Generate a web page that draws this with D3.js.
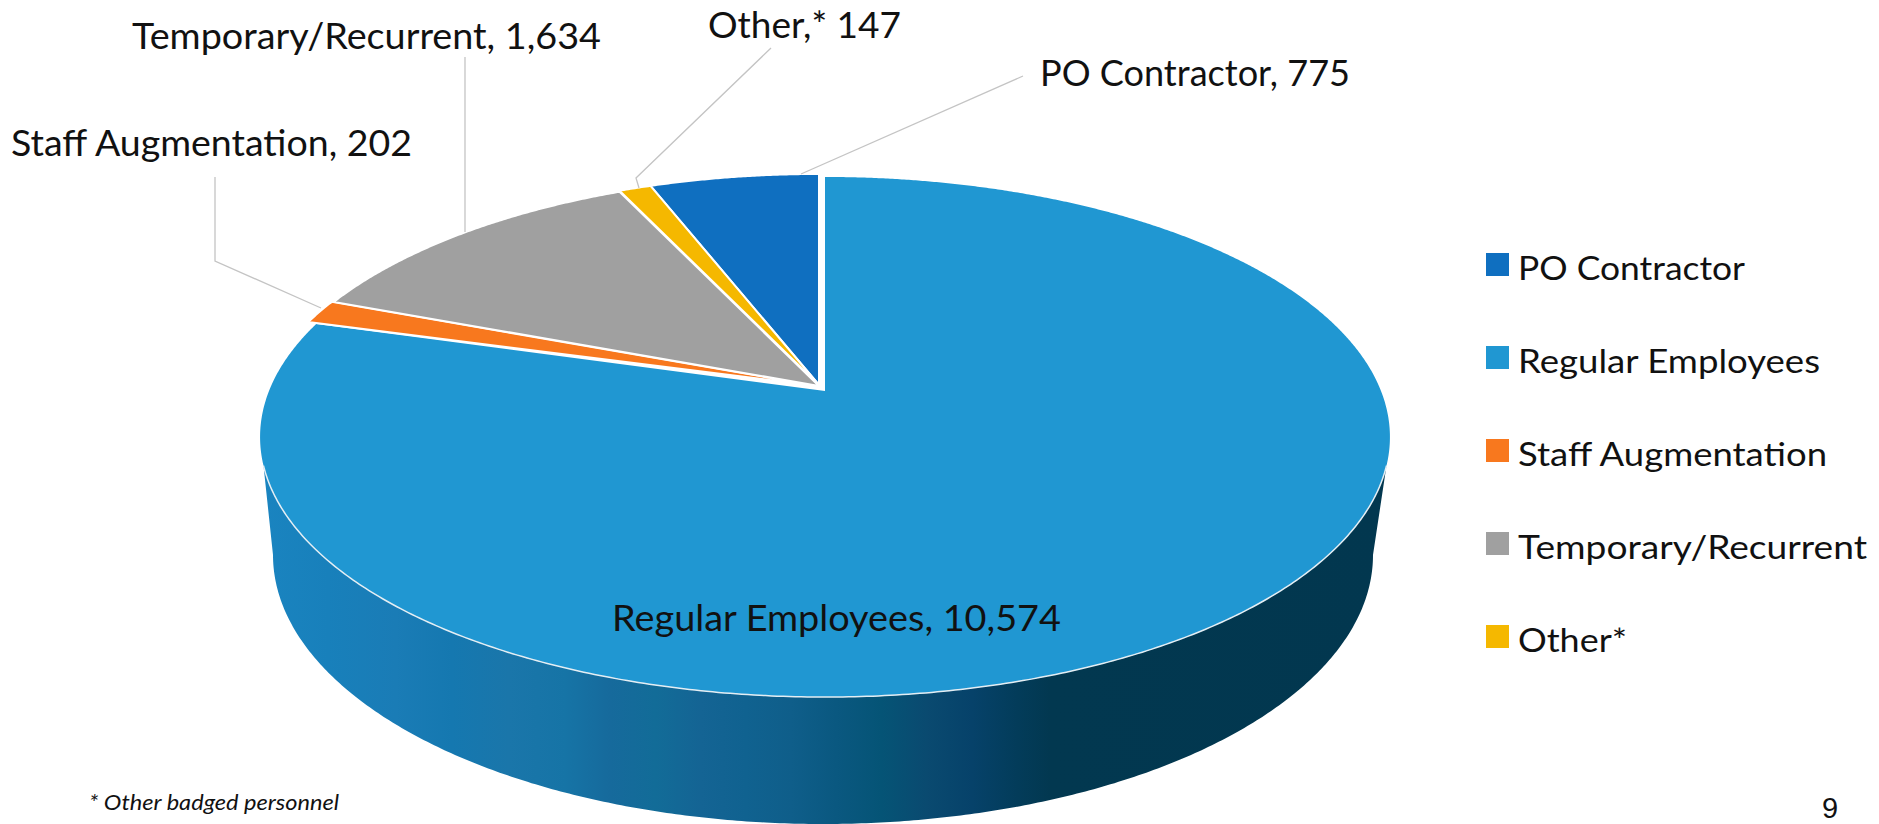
<!DOCTYPE html>
<html>
<head>
<meta charset="utf-8">
<title>Workforce pie</title>
<script src="https://cdn.jsdelivr.net/npm/d3@7"></script>
<style>
    html, body { margin: 0; padding: 0; background: #fff; overflow: hidden; }
    text { font-family: Lato, "Noto Sans", sans-serif; fill: #111; }
</style>
</head>
<body>
<div id="chart"></div>
<script>
const categories = ["PO Contractor", "Regular Employees", "Staff Augmentation", "Temporary/Recurrent", "Other*"];
const values = [775, 10574, 202, 1634, 147];
const colors = ["#0f6fc0", "#2097d2", "#f8781e", "#a0a0a0", "#f5b800"];
const dataLabels = ["PO Contractor, 775", "Regular Employees, 10,574", "Staff Augmentation, 202", "Temporary/Recurrent, 1,634", "Other,* 147"];
const footnote = "* Other badged personnel";
const pageNumber = "9";

document.addEventListener("DOMContentLoaded", function() {
    const width = 1879;
    const height = 824;

    const svg = d3.select("#chart")
        .append("svg")
        .attr("width", width)
        .attr("height", height);

    // top face: circle seen in perspective, apex is not the middle of the ellipse
    const cx = 825, cy = 388;
    const k = 0.1885, A = 250.8, B = 554.8;
    function project(t, dx = 0, dy = 0) {
        const den = 1 + k * Math.cos(t);
        return [cx + dx + B * Math.sin(t) / den, cy + dy - A * Math.cos(t) / den];
    }

    const total = d3.sum(values);
    const start = -2 * Math.PI * values[0] / total;
    const pie = d3.pie().sort(null).startAngle(start).endAngle(start + 2 * Math.PI);
    const arcs = pie(values);

    const line = d3.line();

    // side wall
    const rad = d => d * Math.PI / 180;
    const rim = d3.range(107, 253.5, 0.5).map(d => project(rad(d)));
    const lower = d3.range(180, -0.5, -0.5).map(d => [823 + 550 * Math.cos(rad(d)), 555 + 269 * Math.sin(rad(d))]);

    const wallStops = [
        [0, "#1a84c0"], [0.06, "#1880bb"], [0.12, "#1a7cb6"], [0.17, "#1578b0"], [0.22, "#1a76aa"],
        [0.27, "#1674a6"], [0.31, "#166a9c"], [0.35, "#126c98"], [0.39, "#146494"], [0.43, "#106290"],
        [0.47, "#0f5e8a"], [0.51, "#0a5880"], [0.55, "#055476"], [0.59, "#0a4a70"], [0.63, "#06426a"],
        [0.67, "#033c5a"], [0.7, "#023850"], [1, "#02374f"]
    ];
    const grad = svg.append("defs").append("linearGradient")
        .attr("id", "wall")
        .attr("gradientUnits", "userSpaceOnUse")
        .attr("x1", 260).attr("x2", 1390)
        .attr("y1", 0).attr("y2", 0);
    grad.selectAll("stop")
        .data(wallStops)
        .join("stop")
        .attr("offset", d => d[0])
        .attr("stop-color", d => d[1]);

    svg.append("path")
        .attr("d", line(rim.concat(lower)) + "Z")
        .attr("fill", "url(#wall)");

    // slices, everything but Regular Employees is pulled a little up and left
    function slicePath(d, dx, dy, apexDy = 0) {
        const n = Math.ceil((d.endAngle - d.startAngle) / 0.005);
        const pts = d3.range(n + 1).map(i => project(d.startAngle + (d.endAngle - d.startAngle) * i / n, dx, dy));
        return line([[cx + dx, cy + dy + apexDy]].concat(pts)) + "Z";
    }

    svg.append("path")
        .attr("d", slicePath(arcs[1], 0, 0, 3))
        .attr("fill", colors[1]);

    // white rim along the front
    svg.append("path")
        .attr("d", line(rim))
        .attr("fill", "none")
        .attr("stroke", "#e4eef4")
        .attr("stroke-width", 1.5);

    const pull = { 0: [-6, -3], 2: [-8, -2], 3: [-6, -2], 4: [-6, -3] };
    const others = arcs.filter((d, i) => i !== 1);
    svg.selectAll(".slice")
        .data(others)
        .join("path")
        .attr("class", "slice")
        .attr("d", d => slicePath(d, pull[d.index][0], pull[d.index][1]))
        .attr("fill", d => colors[d.index])
        .attr("stroke", "#fff")
        .attr("stroke-width", 2)
        .attr("stroke-linejoin", "round");

    // leader lines
    const leaders = [
        [[1023, 76], [801, 174]],
        [[215, 177], [215, 261], [321, 308]],
        [[465, 57], [465, 232]],
        [[771, 48], [636, 178], [639, 188]]
    ];
    svg.selectAll(".leader")
        .data(leaders)
        .join("path")
        .attr("class", "leader")
        .attr("d", d => line(d))
        .attr("fill", "none")
        .attr("stroke", "#c4c4c4")
        .attr("stroke-width", 1.3);

    // data labels: x, baseline, width in order of the categories
    const labelPos = [[1040, 86, 310], [612, 631, 449], [11, 156, 401], [132, 49, 469], [708, 38, 193]];
    svg.selectAll(".label")
        .data(dataLabels)
        .join("text")
        .attr("class", "label")
        .attr("x", (d, i) => labelPos[i][0])
        .attr("y", (d, i) => labelPos[i][1])
        .attr("textLength", (d, i) => labelPos[i][2])
        .attr("lengthAdjust", "spacingAndGlyphs")
        .attr("font-size", 36)
        .text(d => d);

    // legend
    const legendY = d3.scalePoint().domain(categories).range([253, 625]);
    const legendWidths = [227, 302, 309, 349, 109];
    const legend = svg.selectAll(".legend")
        .data(categories)
        .join("g")
        .attr("class", "legend")
        .attr("transform", d => `translate(1486,${legendY(d)})`);
    legend.append("rect")
        .attr("width", 23)
        .attr("height", 23)
        .attr("fill", (d, i) => colors[i]);
    legend.append("text")
        .attr("x", 32)
        .attr("y", 27)
        .attr("textLength", (d, i) => legendWidths[i])
        .attr("lengthAdjust", "spacingAndGlyphs")
        .attr("font-size", 32)
        .text(d => d);

    svg.append("text")
        .attr("x", 89)
        .attr("y", 810)
        .attr("textLength", 250)
        .attr("lengthAdjust", "spacingAndGlyphs")
        .attr("font-size", 22)
        .attr("font-style", "italic")
        .text(footnote);

    svg.append("text")
        .attr("x", 1822)
        .attr("y", 818)
        .attr("font-size", 29)
        .style("font-family", "'Liberation Sans'")
        .text(pageNumber);
});
</script>
</body>
</html>
